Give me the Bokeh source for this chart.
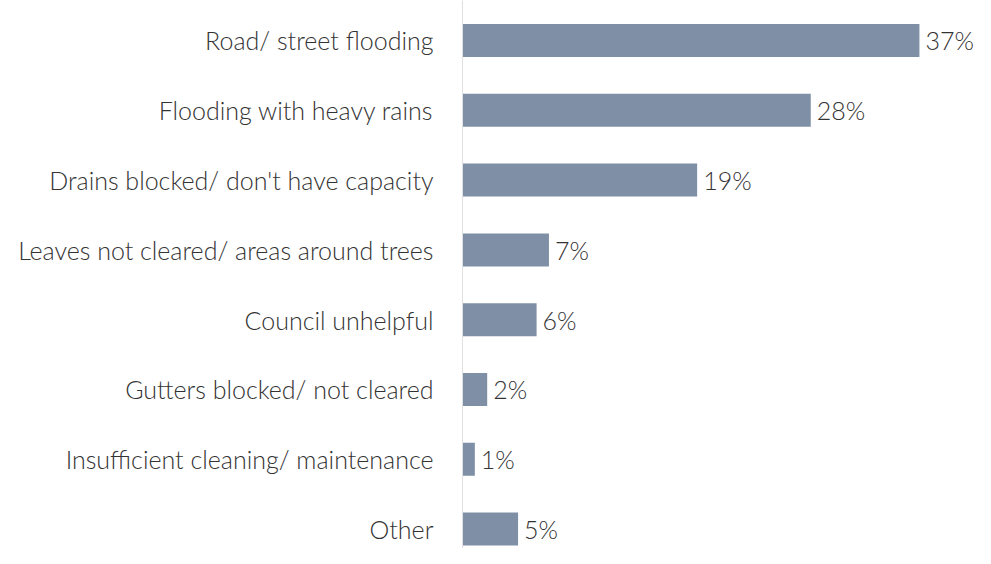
from bokeh.plotting import figure
from bokeh.models import Range1d, FixedTicker, ColumnDataSource
from bokeh.core.properties import value
from bokeh.embed import file_html
from bokeh.resources import INLINE

categories = [
    "Road/ street flooding",
    "Flooding with heavy rains",
    "Drains blocked/ don't have capacity",
    "Leaves not cleared/ areas around trees",
    "Council unhelpful",
    "Gutters blocked/ not cleared",
    "Insufficient cleaning/ maintenance",
    "Other",
]
values = [37, 28.2, 19, 7, 6, 2, 1, 4.5]
labels = ["37%", "28%", "19%", "7%", "6%", "2%", "1%", "5%"]

FONT = "'Lato Light', Lato, sans-serif"
FSIZE = "25px"
pos = list(range(len(categories)))

src = ColumnDataSource(dict(y=pos, v=values, lab=labels))

p = figure(width=975, height=548, output_backend="svg", toolbar_location=None,
           x_range=Range1d(0, 41.54), y_range=Range1d(7.278, -0.573),
           min_border_left=462, min_border_right=0, min_border_top=0, min_border_bottom=0)
p.outline_line_color = None
p.grid.grid_line_color = None
p.xaxis.visible = False

p.hbar(y="y", right="v", left=0, height=0.473, source=src, color="#7f90a6", line_color=None)
p.text(x="v", y="y", text="lab", source=src, x_offset=6, text_align="left",
       text_baseline="middle", text_font=value(FONT), text_font_size=FSIZE, text_color="#333333")

ya = p.yaxis[0]
ya.ticker = FixedTicker(ticks=pos)
ya.major_label_overrides = {i: c for i, c in enumerate(categories)}
ya.major_tick_line_color = None
ya.minor_tick_line_color = None
ya.major_tick_out = 0
ya.major_tick_in = 0
ya.axis_line_color = "#e0e0e0"
ya.major_label_standoff = 29
ya.major_label_text_font = FONT
ya.major_label_text_font_size = FSIZE
ya.major_label_text_color = "#333333"

open("out.html", "w").write(file_html(p, INLINE))
